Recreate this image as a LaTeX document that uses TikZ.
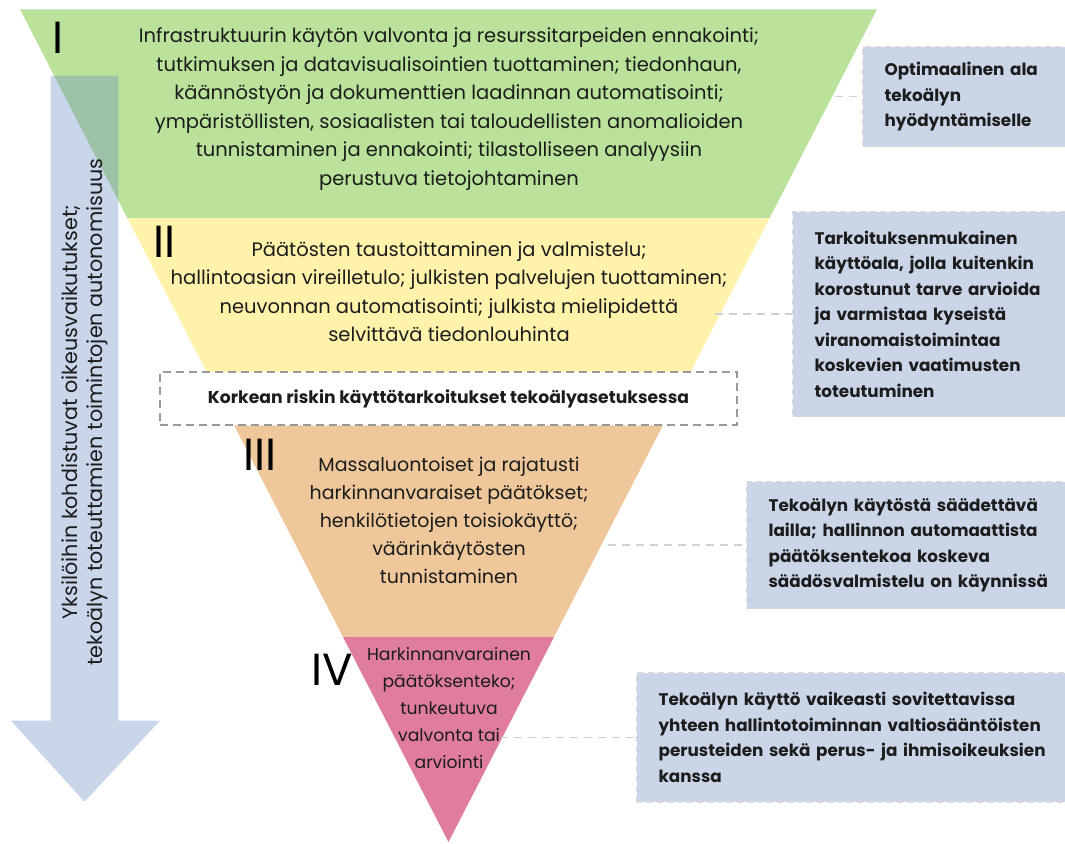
\documentclass[tikz,border=0pt]{standalone}
\usepackage{fontspec}
\setmainfont{Poppins}
\usetikzlibrary{calc}

\definecolor{lvlgreen}{RGB}{186,226,154}
\definecolor{lvlyellow}{RGB}{255,243,171}
\definecolor{lvlorange}{RGB}{238,200,155}
\definecolor{lvlpink}{RGB}{224,124,156}
\definecolor{noteblue}{RGB}{202,214,232}
\definecolor{arrowblue}{RGB}{105,139,191}
\definecolor{ink}{RGB}{28,28,28}

\tikzset{
	band/.style={align=center, text=ink, inner sep=0pt, font=\fontsize{19.5}{28.5}\selectfont},
	numeral/.style={anchor=base west, inner sep=0pt, text=black, font=\fontsize{45}{45}\selectfont},
	note/.style={anchor=west, fill=noteblue, draw=black!15, line width=1.2pt, dash pattern=on 6pt off 4pt, align=left, inner xsep=22pt, text=ink, font=\fontsize{16.8}{25.5}\selectfont\bfseries},
	leader/.style={draw=black!18, line width=1.2pt, dash pattern=on 8pt off 6pt},
	riskbox/.style={fill=white, draw=black!40, line width=1.6pt, dash pattern=on 8pt off 5pt, minimum width=577pt, minimum height=53pt, text=ink, font=\fontsize{17.2}{20}\selectfont\bfseries}
}

\begin{document}
\begin{tikzpicture}[x=1pt, y=-1pt]
		%%%%% START %%%%%
		\clip (0, 0) rectangle (1065, 843);
		
		% inverted triangle in four levels
		\coordinate (tl) at (20, 9.3);
		\coordinate (tr) at (877, 9.3);
		\coordinate (apex) at (448.5, 842);
		\fill[lvlgreen] (tl) -- (tr) -- ($(tr)!0.251!(apex)$) -- ($(tl)!0.251!(apex)$) -- cycle;
		\fill[lvlyellow] ($(tl)!0.251!(apex)$) -- ($(tr)!0.251!(apex)$) -- ($(tr)!0.5!(apex)$) -- ($(tl)!0.5!(apex)$) -- cycle;
		\fill[lvlorange] ($(tl)!0.5!(apex)$) -- ($(tr)!0.5!(apex)$) -- ($(tr)!0.754!(apex)$) -- ($(tl)!0.754!(apex)$) -- cycle;
		\fill[lvlpink] ($(tl)!0.754!(apex)$) -- ($(tr)!0.754!(apex)$) -- (apex) -- cycle;
		
		% downward arrow
		\fill[arrowblue, fill opacity=0.36] (50.7, 75.7) -- (118.3, 75.7) -- (118.3, 720.7) -- (160, 720.7) -- (84.5, 801.7) -- (11, 720.7) -- (50.7, 720.7) -- cycle;
		\node[rotate=90, align=center, text=ink, font=\fontsize{20.7}{25}\selectfont] (axis) at (84.5, 412) {Yksilöihin kohdistuvat oikeusvaikutukset;\\tekoälyn toteuttamien toimintojen autonomisuus};
		
		% level texts
		\node[band] (lvl1) at (449, 109) {Infrastruktuurin käytön valvonta ja resurssitarpeiden ennakointi;\\tutkimuksen ja datavisualisointien tuottaminen; tiedonhaun,\\käännöstyön ja dokumenttien laadinnan automatisointi;\\ympäristöllisten, sosiaalisten tai taloudellisten anomalioiden\\tunnistaminen ja ennakointi; tilastolliseen analyysiin\\perustuva tietojohtaminen};
		\node[band] (lvl2) at (449, 291.5) {Päätösten taustoittaminen ja valmistelu;\\hallintoasian vireilletulo; julkisten palvelujen tuottaminen;\\neuvonnan automatisointi; julkista mielipidettä\\selvittävä tiedonlouhinta};
		\node[riskbox] (risk) at (448.5, 398.4) {Korkean riskin käyttötarkoitukset tekoälyasetuksessa};
		\node[band, font=\fontsize{19}{28}\selectfont] (lvl3) at (449, 520) {Massaluontoiset ja rajatusti\\harkinnanvaraiset päätökset;\\henkilötietojen toisiokäyttö;\\väärinkäytösten\\tunnistaminen};
		\node[band, font=\fontsize{17.2}{27}\selectfont] (lvl4) at (449, 708.5) {Harkinnanvarainen\\päätöksenteko;\\tunkeutuva\\valvonta tai\\arviointi};
		
		\node[numeral] (num1) at (52, 53) {I};
		\node[numeral] (num2) at (153, 257) {II};
		\node[numeral] (num3) at (243, 470) {III};
		\node[numeral] (num4) at (311, 685) {IV};
		
		% notes on the right
		\node[note, text width=200pt, minimum height=100pt] (opt) at (862, 96.7) {Optimaalinen ala\\tekoälyn\\hyödyntämiselle};
		\node[note, text width=260pt, minimum height=205pt] (purpose) at (792, 314) {Tarkoituksenmukainen\\käyttöala, jolla kuitenkin\\korostunut tarve arvioida\\ja varmistaa kyseistä\\viranomaistoimintaa\\koskevien vaatimusten\\toteutuminen};
		\node[note, text width=300pt, minimum height=127pt] (law) at (746, 545) {Tekoälyn käytöstä säädettävä\\lailla; hallinnon automaattista\\päätöksentekoa koskeva\\säädösvalmistelu on käynnissä};
		\node[note, text width=420pt, minimum height=129pt] (conflict) at (636, 737.5) {Tekoälyn käyttö vaikeasti sovitettavissa\\yhteen hallintotoiminnan valtiosääntöisten\\perusteiden sekä perus- ja ihmisoikeuksien\\kanssa};
		
		\coordinate (c1) at (835, 96.7);
		\coordinate (c2) at (715, 314);
		\coordinate (c3) at (608, 545);
		\coordinate (c4) at (500, 737.5);
		\draw[leader] (c1) -- (opt.west);
		\draw[leader] (c2) -- (purpose.west);
		\draw[leader] (c3) -- (law.west);
		\draw[leader] (c4) -- (conflict.west);
		
		%%%%% END %%%%%
\end{tikzpicture}
\end{document}
